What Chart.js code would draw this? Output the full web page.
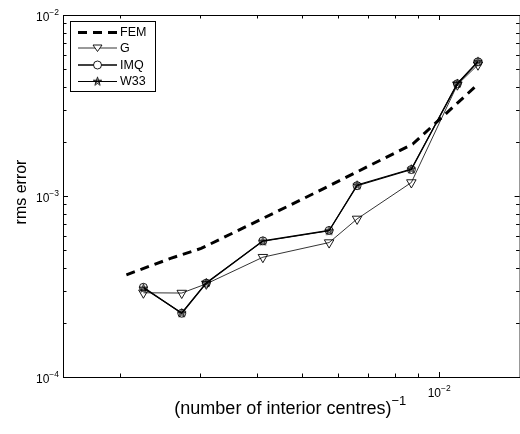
<!DOCTYPE html>
<html>
<head>
<meta charset="utf-8">
<script src="https://cdn.jsdelivr.net/npm/chart.js@4.4.1/dist/chart.umd.min.js"></script>
<style>
html, body { margin: 0; padding: 0; background: #fff; overflow: hidden; }
#wrap { position: relative; width: 526px; height: 434px; }
</style>
</head>
<body>
<div id="wrap"><canvas id="chart" width="526" height="434"></canvas></div>
<script>
// data (x = 1 / number of interior centres)
const femX = [0.002065, 0.00258, 0.00301, 0.00490, 0.00875, 0.01196];
const femY = [3.67e-4, 4.52e-4, 5.13e-4, 9.33e-4, 1.935e-3, 3.99e-3];
const rbfX = [0.00225, 0.00273, 0.00309, 0.00411, 0.00574, 0.00661, 0.00869, 0.01096, 0.01216];
const gY = [2.92e-4, 2.91e-4, 3.27e-4, 4.59e-4, 5.53e-4, 7.47e-4, 1.187e-3, 4.12e-3, 5.31e-3];
const imqY = [3.13e-4, 2.25e-4, 3.30e-4, 5.65e-4, 6.45e-4, 1.14e-3, 1.40e-3, 4.17e-3, 5.51e-3];
const w33Y = [3.10e-4, 2.26e-4, 3.32e-4, 5.63e-4, 6.43e-4, 1.15e-3, 1.41e-3, 4.19e-3, 5.55e-3];
const xTicks = [1e-2];
const yTicks = [1e-4, 1e-3, 1e-2];

function pts(xs, ys) {
    return xs.map((x, i) => ({x: x, y: ys[i]}));
}

// pentagram marker (Chart.js has no 5-point star)
function makeStar() {
    const c = document.createElement('canvas');
    c.width = 11; c.height = 11;
    const g = c.getContext('2d');
    g.beginPath();
    for (let i = 0; i < 5; i++) {
        const a = -Math.PI / 2 + i * 4 * Math.PI / 5;
        const px = 5.5 + 4.5 * Math.cos(a), py = 5.8 + 4.5 * Math.sin(a);
        if (i === 0) g.moveTo(px, py); else g.lineTo(px, py);
    }
    g.closePath();
    g.strokeStyle = '#000';
    g.lineWidth = 0.9;
    g.stroke();
    return c;
}
const starImg = makeStar();

function supLabel(ctx, base, sup, x, y, align, baseSize, supSize) {
    ctx.font = baseSize + 'px "Liberation Sans", Arial, sans-serif';
    const wb = ctx.measureText(base).width;
    ctx.font = supSize + 'px "Liberation Sans", Arial, sans-serif';
    const ws = ctx.measureText(sup).width;
    let left = x;
    if (align === 'center') left = x - (wb + ws) / 2;
    if (align === 'right') left = x - wb - ws;
    ctx.textAlign = 'left';
    ctx.textBaseline = 'alphabetic';
    ctx.font = baseSize + 'px "Liberation Sans", Arial, sans-serif';
    ctx.fillText(base, left, y);
    ctx.font = supSize + 'px "Liberation Sans", Arial, sans-serif';
    ctx.fillText(sup, left + wb, y - baseSize * 0.5);
}

const axesPlugin = {
    id: 'matlabAxes',
    afterDatasetsDraw(chart) {
        const ctx = chart.ctx;
        const a = chart.chartArea;
        const xs = chart.scales.x, ys = chart.scales.y;
        ctx.save();
        ctx.strokeStyle = '#000';
        ctx.fillStyle = '#000';
        ctx.lineWidth = 1;
        ctx.strokeRect(a.left + 0.5, a.top + 0.5, a.right - a.left, a.bottom - a.top);

        // ticks, pointing inward, on all four sides
        const tick = (p, major, vertical) => {
            const len = major ? 5 : 3.5;
            ctx.beginPath();
            if (vertical) {
                ctx.moveTo(Math.round(p) + 0.5, a.bottom); ctx.lineTo(Math.round(p) + 0.5, a.bottom - len);
                ctx.moveTo(Math.round(p) + 0.5, a.top); ctx.lineTo(Math.round(p) + 0.5, a.top + len);
            } else {
                ctx.moveTo(a.left, Math.round(p) + 0.5); ctx.lineTo(a.left + len, Math.round(p) + 0.5);
                ctx.moveTo(a.right, Math.round(p) + 0.5); ctx.lineTo(a.right - len, Math.round(p) + 0.5);
            }
            ctx.stroke();
        };
        for (let e = -3; e <= -2; e++) {
            for (let m = 1; m <= 9; m++) {
                const v = m * Math.pow(10, e);
                if (v < xs.min || v > xs.max) continue;
                tick(xs.getPixelForValue(v), m === 1, true);
            }
        }
        for (let e = -4; e <= -2; e++) {
            for (let m = 1; m <= 9; m++) {
                const v = m * Math.pow(10, e);
                if (v < ys.min * 0.999 || v > ys.max * 1.001) continue;
                tick(ys.getPixelForValue(v), m === 1, false);
            }
        }

        // tick labels
        xTicks.forEach(v => {
            const e = Math.round(Math.log10(v));
            supLabel(ctx, '10', '\u2212' + Math.abs(e), xs.getPixelForValue(v), a.bottom + 20, 'center', 12, 8.5);
        });
        yTicks.forEach(v => {
            const e = Math.round(Math.log10(v));
            supLabel(ctx, '10', '\u2212' + Math.abs(e), a.left - 4, ys.getPixelForValue(v) + 6, 'right', 12, 8.5);
        });

        // axis titles
        supLabel(ctx, '(number of interior centres)', '\u22121', (a.left + a.right) / 2 - 1, 414, 'center', 18, 13);
        ctx.save();
        ctx.translate(26, (a.top + a.bottom) / 2 - 4);
        ctx.rotate(-Math.PI / 2);
        ctx.font = '16px "Liberation Sans", Arial, sans-serif';
        ctx.textAlign = 'center';
        ctx.textBaseline = 'alphabetic';
        ctx.fillText('rms error', 0, 0);
        ctx.restore();

        // legend box
        const lx = 70, ly = 21, lw = 85, lh = 70;
        ctx.fillStyle = '#fff';
        ctx.fillRect(lx, ly, lw, lh);
        ctx.strokeRect(lx + 0.5, ly + 0.5, lw, lh);
        const rows = [32.5, 48, 65, 81.5];
        chart.data.datasets.forEach((ds, i) => {
            const y = rows[i];
            ctx.save();
            ctx.strokeStyle = ds.borderColor;
            ctx.lineWidth = ds.borderWidth;
            ctx.setLineDash(ds.borderDash || []);
            ctx.beginPath();
            ctx.moveTo(78, y); ctx.lineTo(117, y);
            ctx.stroke();
            ctx.restore();
            if (ds.pointRadius > 0) {
                const st = ds.pointStyle;
                ctx.save();
                ctx.strokeStyle = '#000';
                ctx.lineWidth = 0.9;
                if (st === 'triangle') {
                    ctx.beginPath();
                    ctx.moveTo(97.5, y + 3.5); ctx.lineTo(93, y - 3); ctx.lineTo(102, y - 3); ctx.closePath();
                    ctx.fillStyle = '#fff'; ctx.fill(); ctx.stroke();
                } else if (st === 'circle') {
                    ctx.beginPath();
                    ctx.arc(97.5, y, 4, 0, Math.PI * 2);
                    ctx.fillStyle = '#fff'; ctx.fill(); ctx.stroke();
                } else {
                    ctx.drawImage(starImg, 97.5 - 5.5, y - 5.8);
                }
                ctx.restore();
            }
            ctx.fillStyle = '#000';
            ctx.font = '12.5px "Liberation Sans", Arial, sans-serif';
            ctx.textAlign = 'left';
            ctx.textBaseline = 'middle';
            ctx.fillText(ds.label, 120, y + 0.5);
        });
        ctx.restore();
    }
};

new Chart(document.getElementById('chart'), {
    type: 'line',
    data: {
        datasets: [
            {
                label: 'FEM', data: pts(femX, femY),
                borderColor: '#000', borderWidth: 3, borderDash: [9, 6],
                pointRadius: 0, fill: false, tension: 0
            },
            {
                label: 'G', data: pts(rbfX, gY),
                borderColor: '#000', borderWidth: 0.8,
                pointStyle: 'triangle', rotation: 180, pointRadius: 5.5,
                pointBackgroundColor: 'rgba(0,0,0,0)', pointBorderColor: '#000', pointBorderWidth: 0.9,
                fill: false, tension: 0
            },
            {
                label: 'IMQ', data: pts(rbfX, imqY),
                borderColor: '#000', borderWidth: 1.3,
                pointStyle: 'circle', pointRadius: 4,
                pointBackgroundColor: 'rgba(0,0,0,0)', pointBorderColor: '#000', pointBorderWidth: 0.9,
                fill: false, tension: 0
            },
            {
                label: 'W33', data: pts(rbfX, w33Y),
                borderColor: '#000', borderWidth: 1.1,
                pointStyle: starImg, pointRadius: 5,
                fill: false, tension: 0
            }
        ]
    },
    options: {
        responsive: false,
        animation: false,
        devicePixelRatio: 1,
        layout: { padding: { left: 63, top: 15, right: 3, bottom: 57 } },
        plugins: { legend: { display: false }, tooltip: { enabled: false } },
        scales: {
            x: { type: 'logarithmic', min: 1.5e-3, max: 1.5e-2, display: false },
            y: { type: 'logarithmic', min: 1e-4, max: 1e-2, display: false }
        }
    },
    plugins: [axesPlugin]
});
</script>
</body>
</html>
